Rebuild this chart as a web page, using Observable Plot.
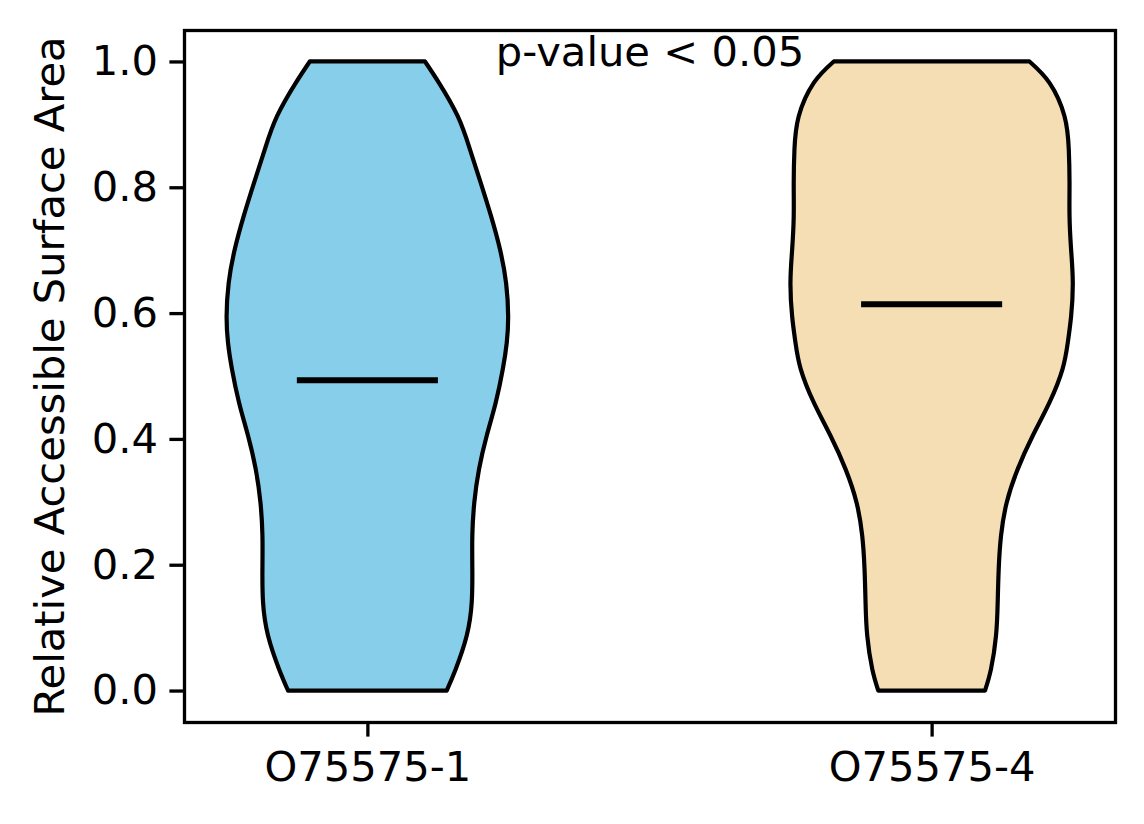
<!DOCTYPE html>
<html>
<head>
<meta charset="utf-8">
<script src="https://cdn.jsdelivr.net/npm/d3@7"></script>
<script src="https://cdn.jsdelivr.net/npm/@observablehq/plot@0.6"></script>
<style>
  html, body { margin: 0; padding: 0; background: white; }
  #chart svg { display: block; }
</style>
</head>
<body>
<div id="chart"></div>
<script>
// ---- data ----
const categories = ["O75575-1", "O75575-4"];
const positions = [1, 2];
const colors = ["#87CEEB", "#F5DEB3"];
const means = [0.494, 0.615];
const annotation = "p-value < 0.05";
const yTicks = [0, 0.2, 0.4, 0.6, 0.8, 1.0];

// density profile (y value, half-width in x units) of each violin
const densityY = [0, 0.034, 0.087, 0.140, 0.193, 0.246, 0.299, 0.352, 0.405, 0.458, 0.511,
                  0.553, 0.595, 0.648, 0.701, 0.754, 0.807, 0.860, 0.913, 0.966, 1.0];
const halfWidth1 = [0.1406, 0.1565, 0.1760, 0.1849, 0.1860, 0.1860, 0.1895, 0.1979, 0.2115, 0.2275, 0.2400,
                    0.2470, 0.2495, 0.2458, 0.2351, 0.2192, 0.2009, 0.1819, 0.1601, 0.1269, 0.1020];
const halfWidth2 = [0.0946, 0.1052, 0.1141, 0.1171, 0.1189, 0.1230, 0.1331, 0.1526, 0.1792, 0.2089, 0.2320,
                    0.2413, 0.2472, 0.2502, 0.2472, 0.2444, 0.2444, 0.2431, 0.2355, 0.2089, 0.1734];
const halfWidths = [halfWidth1, halfWidth2];
const meanHalfLength = 0.125;

// ---- build tables ----
const violinRows = [];
categories.forEach((c, i) => {
  densityY.forEach((y, j) => {
    violinRows.push({cat: c, pos: positions[i], y, hw: halfWidths[i][j], color: colors[i]});
  });
});
const meanRows = categories.map((c, i) => ({cat: c, pos: positions[i], mean: means[i]}));

const fs = 41.67;
const chart = Plot.plot({
  width: 1144,
  height: 824,
  marginLeft: 184,
  marginRight: 29,
  marginTop: 30,
  marginBottom: 102,
  style: {fontFamily: "DejaVu Sans", fontSize: fs + "px", background: "white", color: "black"},
  x: {domain: [0.675, 2.325]},
  y: {domain: [-0.05, 1.05]},
  marks: [
    Plot.areaX(violinRows, {
      y: "y",
      x1: d => d.pos - d.hw,
      x2: d => d.pos + d.hw,
      z: "cat",
      fill: "color",
      stroke: "black",
      strokeWidth: 4.2,
      curve: "natural"
    }),
    Plot.ruleY(meanRows, {
      y: "mean",
      x1: d => d.pos - meanHalfLength,
      x2: d => d.pos + meanHalfLength,
      stroke: "black",
      strokeWidth: 6
    }),
    Plot.text([annotation], {
      frameAnchor: "top",
      textAnchor: "middle",
      lineAnchor: "bottom",
      dy: 35,
      fontSize: fs,
      fill: "black"
    }),
    Plot.axisY({
      ticks: yTicks,
      tickFormat: d => d.toFixed(1),
      tickSize: 14.6,
      tickPadding: 12,
      strokeWidth: 3.3,
      fontSize: fs,
      label: "Relative Accessible Surface Area",
      labelAnchor: "center",
      labelArrow: "none",
      labelOffset: 150
    }),
    Plot.axisX({
      ticks: positions,
      tickFormat: p => categories[positions.indexOf(p)],
      tickSize: 14.6,
      tickPadding: 14,
      strokeWidth: 3.3,
      fontSize: fs,
      label: null
    }),
    Plot.frame({stroke: "black", strokeWidth: 3.3})
  ]
});
document.getElementById("chart").appendChild(chart);
</script>
</body>
</html>
